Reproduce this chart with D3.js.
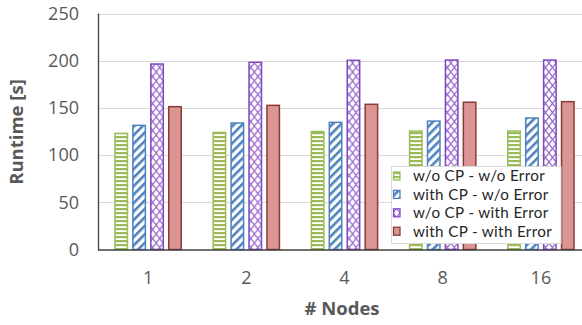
<!DOCTYPE html>
<html>
<head>
<meta charset="utf-8">
<script src="https://cdn.jsdelivr.net/npm/d3@7"></script>
<style>
  html, body { margin: 0; padding: 0; background: #fff; overflow: hidden; }
  svg { display: block; font-family: "Open Sans", "Noto Sans", sans-serif; }
</style>
</head>
<body>
<svg id="chart" width="582" height="325"></svg>
<script>
// Runtime per node count for each checkpoint / error configuration
const nodes = ["1", "2", "4", "8", "16"];
const seriesNames = [
  "w/o CP - w/o Error",
  "with CP - w/o Error",
  "w/o CP - with Error",
  "with CP - with Error"
];
const woCpWoError   = [123, 124, 125, 125.5, 125.5];
const withCpWoError = [131.5, 134, 134.7, 136, 139.3];
const woCpWithError = [196.5, 198.3, 200.4, 200.7, 200.7];
const withCpWithError = [151.3, 152.7, 153.8, 156, 156.6];
const yTicks = [0, 50, 100, 150, 200, 250];

const seriesValues = [woCpWoError, withCpWoError, woCpWithError, withCpWithError];

const svg = d3.select("#chart");
const plotLeft = 99, plotRight = 590, plotTop = 13.5, plotBottom = 249.5;

const y = d3.scaleLinear().domain([0, 250]).range([plotBottom, plotTop]);
const x0 = d3.scaleBand().domain(nodes).range([plotLeft, plotRight])
  .paddingInner(0.31).paddingOuter(0.155);
const x1 = d3.scaleBand().domain(d3.range(seriesNames.length))
  .range([0, x0.bandwidth()]).paddingInner(0.22).paddingOuter(0);

// Fill patterns
const defs = svg.append("defs");
const green = "#9BBB59", blue = "#4F81BD", purple = "#7F48C0", redFill = "#D99694", redEdge = "#8C3A38";

const pH = defs.append("pattern").attr("id", "pat0")
  .attr("patternUnits", "userSpaceOnUse").attr("width", 4).attr("height", 4);
pH.append("rect").attr("width", 4).attr("height", 4).attr("fill", "#fff");
pH.append("rect").attr("y", 0).attr("width", 4).attr("height", 2.2).attr("fill", green);

const pD = defs.append("pattern").attr("id", "pat1")
  .attr("patternUnits", "userSpaceOnUse").attr("width", 6).attr("height", 6)
  .attr("patternTransform", "rotate(45)");
pD.append("rect").attr("width", 6).attr("height", 6).attr("fill", "#fff");
pD.append("rect").attr("width", 2.6).attr("height", 6).attr("fill", blue);

const pX = defs.append("pattern").attr("id", "pat2")
  .attr("patternUnits", "userSpaceOnUse").attr("width", 7).attr("height", 9)
  .attr("x", 0).attr("y", 0);
pX.append("rect").attr("width", 7).attr("height", 9).attr("fill", "#fff");
pX.append("path").attr("d", "M0,0L7,9M7,0L0,9")
  .attr("stroke", "#9466CC").attr("stroke-width", 1.2).attr("fill", "none");

const fills = ["url(#pat0)", "url(#pat1)", "url(#pat2)", redFill];
const strokes = [green, blue, purple, redEdge];

// Gridlines
svg.append("g").selectAll("line").data(yTicks.filter(d => d > 0)).join("line")
  .attr("x1", plotLeft).attr("x2", 582)
  .attr("y1", d => Math.round(y(d)) + 0.5).attr("y2", d => Math.round(y(d)) + 0.5)
  .attr("stroke", "#D9D9D9").attr("stroke-width", 1);

// Y axis tick labels
svg.append("g").selectAll("text").data(yTicks).join("text")
  .attr("x", 79).attr("y", d => y(d)).attr("dy", "0.35em")
  .attr("text-anchor", "end").attr("fill", "#595959").attr("font-size", 18)
  .text(d => d);

// Bars
const groups = svg.append("g").selectAll("g").data(nodes).join("g")
  .attr("transform", d => `translate(${x0(d)},0)`);
groups.selectAll("rect")
  .data((d, i) => seriesValues.map((vals, s) => ({ s, v: vals[i] })))
  .join("rect")
  .attr("x", d => x1(d.s) + 0.75)
  .attr("width", x1.bandwidth() - 1.5)
  .attr("y", d => y(d.v))
  .attr("height", d => plotBottom - y(d.v))
  .attr("fill", d => fills[d.s])
  .attr("stroke", d => strokes[d.s])
  .attr("stroke-width", 1.5);

// Axis lines
svg.append("line").attr("x1", plotLeft - 0.5).attr("x2", plotLeft - 0.5)
  .attr("y1", plotTop).attr("y2", plotBottom + 0.5)
  .attr("stroke", "#404040").attr("stroke-width", 1.3);
svg.append("line").attr("x1", plotLeft - 1).attr("x2", 582)
  .attr("y1", plotBottom + 0.5).attr("y2", plotBottom + 0.5)
  .attr("stroke", "#404040").attr("stroke-width", 1.3);

// X tick labels
svg.append("g").selectAll("text").data(nodes).join("text")
  .attr("x", d => x0(d) + x0.bandwidth() / 2).attr("y", 278).attr("dy", "0.35em")
  .attr("text-anchor", "middle").attr("fill", "#595959").attr("font-size", 18)
  .text(d => d);

// Axis titles
svg.append("text").attr("x", 342).attr("y", 309).attr("dy", "0.35em")
  .attr("text-anchor", "middle").attr("fill", "#595959")
  .attr("font-size", 18.5).attr("font-weight", "bold").text("# Nodes");
svg.append("text").attr("transform", "translate(17,132) rotate(-90)")
  .attr("dy", "0.35em").attr("text-anchor", "middle").attr("fill", "#595959")
  .attr("font-size", 18.5).attr("font-weight", "bold").text("Runtime [s]");

// Legend
const lg = svg.append("g");
lg.append("rect").attr("x", 391.5).attr("y", 166.5).attr("width", 169.5).attr("height", 77)
  .attr("fill", "#fff").attr("stroke", "#D9D9D9");
const items = lg.selectAll("g").data(seriesNames).join("g")
  .attr("transform", (d, i) => `translate(393,${176 + i * 18.4})`);
items.append("rect").attr("x", 0.5).attr("y", -4).attr("width", 6.5).attr("height", 8)
  .attr("fill", (d, i) => fills[i]).attr("stroke", (d, i) => strokes[i]).attr("stroke-width", 1.3);
items.append("text").attr("x", 20).attr("dy", "0.35em")
  .attr("fill", "#262626").attr("font-family", "Lato, 'Open Sans', sans-serif")
  .attr("font-size", 15.2).attr("letter-spacing", 0.35).text(d => d);
</script>
</body>
</html>
